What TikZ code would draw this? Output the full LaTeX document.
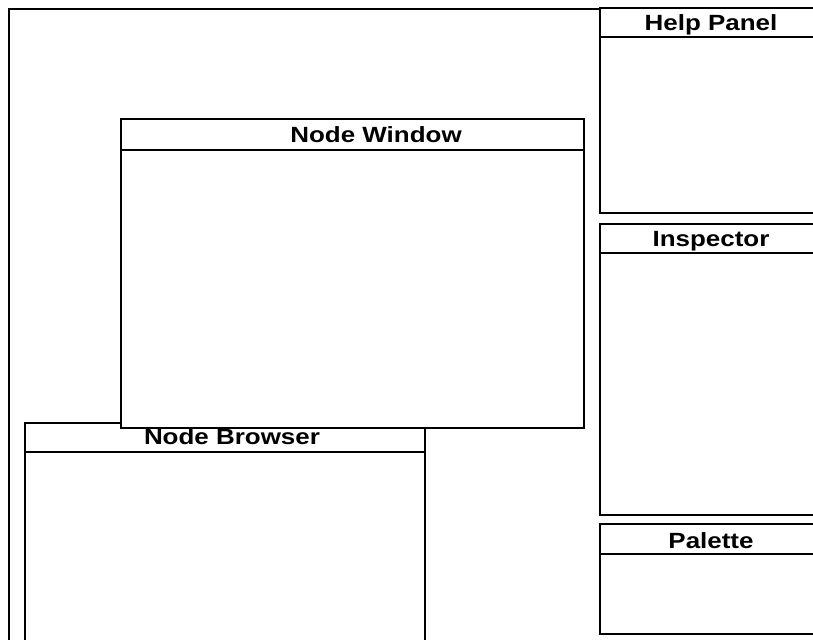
\documentclass[tikz,border=0pt]{standalone}
\usepackage{fontspec}
\setmainfont{Liberation Sans}[FakeStretch=1.18]
\usepackage{tikz}
\usetikzlibrary{fit}

\begin{document}
\begin{tikzpicture}[
    x=0.5pt, y=-0.5pt,
    win/.style={draw, line width=0.9pt, fill=white, inner sep=0pt},
    bar/.style={line width=0.9pt},
    title/.style={anchor=base, inner sep=0pt, font=\fontsize{11}{13}\selectfont\bfseries}
]
\clip (0,0) rectangle (813,640);

% screen frame
\coordinate (screenbl) at (9,650);
\coordinate (screentl) at (9,9);
\coordinate (screentr) at (600,9);
\draw[bar] (screenbl) -- (screentl) -- (screentr);

% right column
\node[win, fit={(600,8) (830,213)}] (help) {};
\draw[bar] ([yshift=-15pt]help.north west) -- ([yshift=-15pt]help.north east);
\node[title] (helptitle) at (711,31) {Help Panel};

\node[win, fit={(600,224) (830,515)}] (inspector) {};
\draw[bar] ([yshift=-15pt]inspector.north west) -- ([yshift=-15pt]inspector.north east);
\node[title] (inspectortitle) at (711,247) {Inspector};

\node[win, fit={(600,524) (830,634)}] (palette) {};
\draw[bar] ([yshift=-15.5pt]palette.north west) -- ([yshift=-15.5pt]palette.north east);
\node[title] (palettetitle) at (711,548) {Palette};

% browser, partly under the node window
\node[win, fit={(25,423) (425,660)}] (browser) {};
\draw[bar] ([yshift=-15pt]browser.north west) -- ([yshift=-15pt]browser.north east);
\node[title] (browsertitle) at (232,445) {Node Browser};

\node[win, fit={(121,119) (584,428)}] (nodewin) {};
\draw[bar] ([yshift=-16pt]nodewin.north west) -- ([yshift=-16pt]nodewin.north east);
\node[title] (nodewintitle) at (376,143) {Node Window};
\end{tikzpicture}
\end{document}
